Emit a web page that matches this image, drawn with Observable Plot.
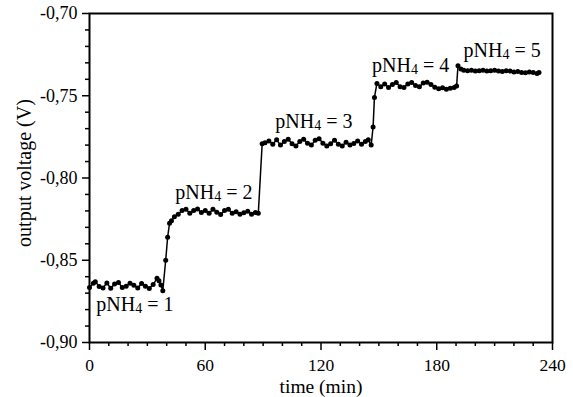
<!DOCTYPE html>
<html><head><meta charset="utf-8">
<script src="https://cdn.jsdelivr.net/npm/d3@7"></script>
<script src="https://cdn.jsdelivr.net/npm/@observablehq/plot@0.6"></script>
<style>body{margin:0;background:#fff;}</style>
</head><body><div id="chart"></div>
<script>
const time = [
  0, 2, 3, 5, 7, 9, 11, 13, 15, 17, 19, 21, 23, 25, 27, 29, 31, 33, 35, 36, 37, 38,
  39.5, 40.5, 41.5, 42.5, 44,
  46, 48, 50, 52, 54, 56, 58, 60, 62, 64, 66, 68, 70, 72, 74, 76, 78, 80, 82, 84, 86, 87.5,
  89.5, 91, 93, 95, 97, 99, 101, 103, 105, 107, 109, 111, 113, 115, 117, 119, 121, 123, 125,
  127, 129, 131, 133, 135, 137, 139, 141, 143, 144.5, 146,
  147, 147.7, 149,
  151, 153, 155, 157, 159, 161, 163, 165, 167, 169, 171, 173, 175, 177, 179, 181, 183, 185,
  187, 189, 190.3, 191,
  192.5, 194, 196, 198, 200, 202, 204, 206, 208, 210, 212, 214, 216, 218, 220, 222, 224,
  226, 228, 230, 232, 233
];
const voltage = [
  -0.8665, -0.8640, -0.8630, -0.8660, -0.8668, -0.8638, -0.8670, -0.8645, -0.8635, -0.8665,
  -0.8658, -0.8640, -0.8652, -0.8668, -0.8642, -0.8658, -0.8672, -0.8648, -0.8610, -0.8625,
  -0.8650, -0.8685,
  -0.8500, -0.8360, -0.8275, -0.8260, -0.8235,
  -0.8220, -0.8198, -0.8190, -0.8215, -0.8198, -0.8188, -0.8210, -0.8198, -0.8215, -0.8190,
  -0.8208, -0.8222, -0.8198, -0.8190, -0.8215, -0.8205, -0.8220, -0.8212, -0.8202, -0.8220,
  -0.8210, -0.8215,
  -0.7792, -0.7785, -0.7775, -0.7795, -0.7768, -0.7800, -0.7778, -0.7765, -0.7792, -0.7805,
  -0.7778, -0.7765, -0.7788, -0.7800, -0.7770, -0.7762, -0.7788, -0.7805, -0.7792, -0.7770,
  -0.7795, -0.7805, -0.7782, -0.7800, -0.7790, -0.7775, -0.7795, -0.7778, -0.7768, -0.7800,
  -0.7690, -0.7510, -0.7425,
  -0.7445, -0.7428, -0.7450, -0.7432, -0.7420, -0.7445, -0.7450, -0.7428, -0.7420, -0.7438,
  -0.7445, -0.7422, -0.7418, -0.7432, -0.7448, -0.7458, -0.7452, -0.7460,
  -0.7455, -0.7450, -0.7440, -0.7318,
  -0.7338, -0.7345, -0.7348, -0.7345, -0.7350, -0.7348, -0.7345, -0.7350, -0.7348, -0.7345,
  -0.7350, -0.7352, -0.7348, -0.7350, -0.7355, -0.7352, -0.7358,
  -0.7360, -0.7355, -0.7358, -0.7365, -0.7358
];
const labelText = ["pNH4 = 1", "pNH4 = 2", "pNH4 = 3", "pNH4 = 4", "pNH4 = 5"];
const labelTime = [3.5, 44.5, 96.3, 146.5, 193.9];
const labelVolt = [-0.8806, -0.8125, -0.7695, -0.7357, -0.7266];
const xTicks = [0, 60, 120, 180, 240];
const xMinor = [10, 20, 30, 40, 50, 70, 80, 90, 100, 110, 130, 140, 150, 160, 170, 190, 200, 210, 220, 230];
const yTicks = [-0.90, -0.85, -0.80, -0.75, -0.70];
const yMinor = [-0.89, -0.88, -0.87, -0.86, -0.84, -0.83, -0.82, -0.81, -0.79, -0.78, -0.77, -0.76, -0.74, -0.73, -0.72, -0.71];
const xTitle = "time (min)";
const yTitle = "output voltage (V)";

const data = time.map((t, i) => ({t, v: voltage[i]}));
const labels = labelText.map((s, i) => ({s, t: labelTime[i], v: labelVolt[i]}));
const fmt = d => d.toFixed(2).replace(".", ",");

const chart = Plot.plot({
  width: 573, height: 397,
  marginLeft: 89, marginRight: 21, marginTop: 13, marginBottom: 55,
  style: {fontFamily: '"Liberation Serif", "Times New Roman", serif', fontSize: "18px", background: "white", color: "black", overflow: "visible"},
  x: {domain: [0, 240]},
  y: {domain: [-0.90, -0.70]},
  marks: [
    Plot.axisX(xMinor, {tickSize: 4, tickFormat: () => "", label: null, strokeWidth: 1.5}),
    Plot.axisX(xTicks, {tickSize: 8, tickPadding: 8.5, tickFormat: d => String(d), label: null, strokeWidth: 1.5, fontSize: 17.5}),
    Plot.axisY(yMinor, {tickSize: 4, tickFormat: () => "", label: null, strokeWidth: 1.5}),
    Plot.axisY(yTicks, {tickSize: 7, tickPadding: 5, tickFormat: fmt, label: null, strokeWidth: 1.5, fontSize: 18}),
    Plot.frame({stroke: "black", strokeWidth: 2}),
    Plot.line(data, {x: "t", y: "v", stroke: "black", strokeWidth: 1.5}),
    Plot.dot(data, {x: "t", y: "v", r: 2.5, fill: "black"}),
    Plot.text(labels, {x: "t", y: "v", text: "s", textAnchor: "start", lineAnchor: "bottom", fontSize: 20, fill: "black"}),
    Plot.text([xTitle], {text: d => d, frameAnchor: "bottom", textAnchor: "middle", lineAnchor: "bottom", dy: 50.5, fontSize: 19.5, fill: "black"}),
    Plot.text([yTitle], {text: d => d, frameAnchor: "left", textAnchor: "middle", lineAnchor: "middle", rotate: -90, dx: -65, dy: -5, fontSize: 20, fill: "black"})
  ]
});
document.getElementById("chart").appendChild(chart);

// subscript the 4 in pNH4
chart.querySelectorAll("text").forEach(el => {
  const s = el.textContent;
  if (s.startsWith("pNH4")) {
    const rest = s.slice(4);
    while (el.firstChild) el.removeChild(el.firstChild);
    const ns = "http://www.w3.org/2000/svg";
    const a = document.createElementNS(ns, "tspan"); a.textContent = "pNH";
    const b = document.createElementNS(ns, "tspan"); b.textContent = "4";
    b.setAttribute("font-size", "14"); b.setAttribute("dy", "2");
    const c = document.createElementNS(ns, "tspan"); c.textContent = rest;
    c.setAttribute("dy", "-2");
    el.appendChild(a); el.appendChild(b); el.appendChild(c);
  }
});
</script>
</body></html>
